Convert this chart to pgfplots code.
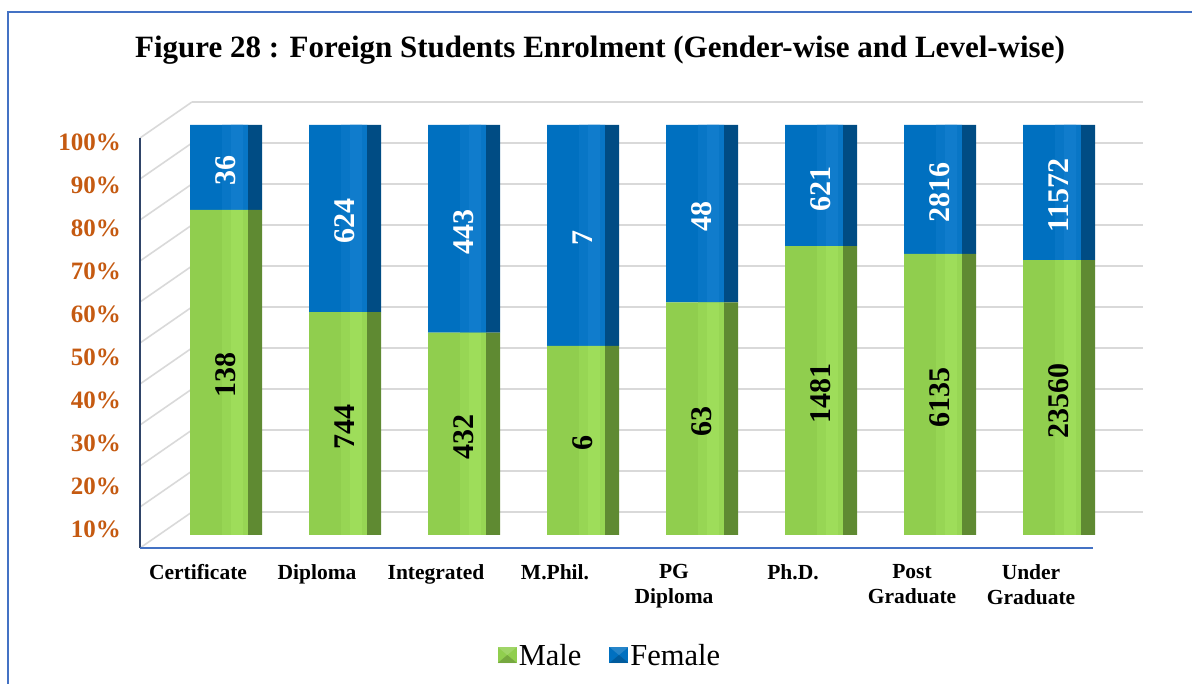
\documentclass[border=0pt]{standalone}
\usepackage{pgfplots}
\pgfplotsset{compat=1.18}
\usepackage{pgfplotstable}
\usepackage{fontspec}
\setmainfont{Liberation Serif}
\definecolor{gfront}{HTML}{90CE4E}
\definecolor{gmid}{HTML}{97D654}
\definecolor{glight}{HTML}{9EDD5A}
\definecolor{gside}{HTML}{5F8A32}
\definecolor{bfront}{HTML}{0070C0}
\definecolor{bmid}{HTML}{0876C6}
\definecolor{blight}{HTML}{107CCC}
\definecolor{bside}{HTML}{004C84}
\definecolor{orng}{HTML}{C55A11}
\definecolor{frame}{HTML}{4472C4}
\definecolor{gridc}{HTML}{D9D9D9}
\definecolor{axisdark}{HTML}{2F4468}

\pgfplotstableread{
i m f
0 138 36
1 744 624
2 432 443
3 6 7
4 63 48
5 1481 621
6 6135 2816
7 23560 11572
}\data

\pgfplotsset{base/.style={
  at={(140pt,136pt)}, anchor=south west, scale only axis,
  width=1003pt, height=446pt,
  xmin=-0.722689, xmax=7.705882,
  ymin=-3.170732, ymax=105.609756,
  axis line style={draw=none},
  major tick length=0pt,
  xtick=\empty, ytick=\empty,
  clip=false,
}}

\begin{document}
\begin{tikzpicture}[x=1pt,y=1pt]
\path[use as bounding box] (0,0) rectangle (1192,684);
% frame
\draw[frame, line width=1.5pt] (8,-10) -- (8,672) -- (1200,672);
% title
\node[font=\bfseries\fontsize{31}{31}\selectfont] at (600,634) {Figure 28 : Foreign Students Enrolment (Gender-wise and Level-wise)};
% back wall and side grid
\foreach \k in {0,...,10} {
  \draw[gridc, line width=1.6pt] (192,{582-41*\k}) -- (1143,{582-41*\k});
  \draw[gridc, line width=1.6pt] (140,{546-41*\k}) -- (192,{582-41*\k});
}
\draw[axisdark, line width=1.5pt] (140,546) -- (140,136);
\draw[frame, line width=1.5pt] (140,136) -- (1093,136);

% axis: tick labels
\begin{axis}[base,
  ytick={1.3,11.8,22.3,32.8,43.3,53.8,64.3,74.8,85.3,95.8},
  yticklabels={10\%,20\%,30\%,40\%,50\%,60\%,70\%,80\%,90\%,100\%},
  yticklabel style={font=\bfseries\fontsize{25}{25}\selectfont, text=orng, anchor=east, inner sep=0pt, xshift=-19pt},
  xtick={0,...,7},
  xticklabels={Certificate,Diploma,Integrated,M.Phil.,{PG\\Diploma},Ph.D.,{Post\\Graduate},{Under\\Graduate}},
  xticklabel style={font=\bfseries\fontsize{21.5}{25}\selectfont, align=center, anchor=north, inner sep=0pt, xshift=-28pt, yshift=-16pt},
]
\addplot[draw=none] coordinates {(0,0)};
\end{axis}

% front faces
\begin{axis}[base, ybar stacked, bar width=58pt, bar shift=-7pt,
  legend style={draw=none, fill=none, at={(0.4686,-0.2422)}, anchor=center,
    font=\fontsize{30.5}{30.5}\selectfont, legend columns=2,
    /tikz/every even column/.append style={column sep=26pt},
    /tikz/every odd column/.append style={column sep=0pt}},
  legend image code/.code={\fill[#1] (-2pt,-7pt) rectangle (17pt,9pt);
    \fill[black, opacity=0.18] (-2pt,-7pt) -- (7.5pt,1pt) -- (17pt,-7pt) -- cycle;
    \fill[white, opacity=0.15] (-2pt,9pt) -- (7.5pt,1pt) -- (17pt,9pt) -- cycle;},
]
\addplot[draw=none, fill=gfront]
  table[x=i, y expr={100*\thisrow{m}/(\thisrow{m}+\thisrow{f})}] {\data};
\addplot[draw=none, fill=bfront]
  table[x=i, y expr={100*\thisrow{f}/(\thisrow{m}+\thisrow{f})}] {\data};
\legend{Male,Female}
\end{axis}

% highlight stripes (soft gradient)
\begin{axis}[base, ybar stacked, bar width=26pt, bar shift=9pt]
\addplot[draw=none, fill=gmid]
  table[x=i, y expr={100*\thisrow{m}/(\thisrow{m}+\thisrow{f})}] {\data};
\addplot[draw=none, fill=bmid]
  table[x=i, y expr={100*\thisrow{f}/(\thisrow{m}+\thisrow{f})}] {\data};
\end{axis}
\begin{axis}[base, ybar stacked, bar width=12pt, bar shift=11pt]
\addplot[draw=none, fill=glight]
  table[x=i, y expr={100*\thisrow{m}/(\thisrow{m}+\thisrow{f})}] {\data};
\addplot[draw=none, fill=blight]
  table[x=i, y expr={100*\thisrow{f}/(\thisrow{m}+\thisrow{f})}] {\data};
\end{axis}

% side faces
\begin{axis}[base, ybar stacked, bar width=14pt, bar shift=29pt]
\addplot[draw=none, fill=gside]
  table[x=i, y expr={100*\thisrow{m}/(\thisrow{m}+\thisrow{f})}] {\data};
\addplot[draw=none, fill=bside]
  table[x=i, y expr={100*\thisrow{f}/(\thisrow{m}+\thisrow{f})}] {\data};
\end{axis}

% value labels
\begin{axis}[base]
\addplot[draw=none, nodes near coords, point meta=explicit symbolic,
  every node near coord/.style={rotate=90, anchor=center, inner sep=0pt, xshift=-3pt,
    font=\bfseries\fontsize{30}{30}\selectfont, text=black}]
  table[x=i, y expr={50*\thisrow{m}/(\thisrow{m}+\thisrow{f})}, meta=m] {\data};
\addplot[draw=none, nodes near coords, point meta=explicit symbolic,
  every node near coord/.style={rotate=90, anchor=center, inner sep=0pt, xshift=-3pt,
    font=\bfseries\fontsize{30}{30}\selectfont, text=white}]
  table[x=i, y expr={100-50*\thisrow{f}/(\thisrow{m}+\thisrow{f})}, meta=f] {\data};
\end{axis}
\end{tikzpicture}
\end{document}
